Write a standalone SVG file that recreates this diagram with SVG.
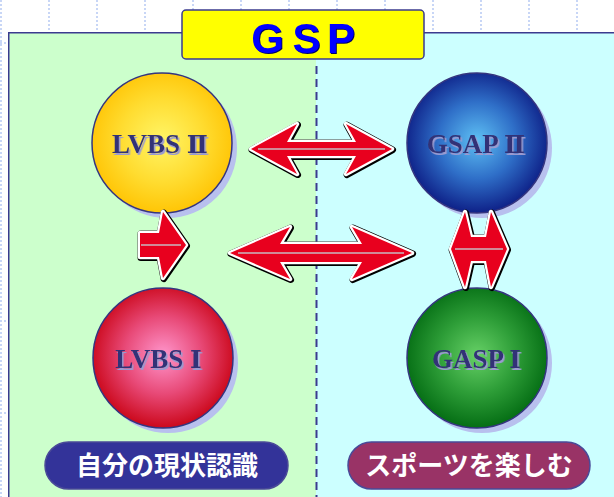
<svg xmlns="http://www.w3.org/2000/svg" xmlns:xlink="http://www.w3.org/1999/xlink" width="614" height="497" viewBox="0 0 614 497">
<defs>
<style>
.grid{stroke:#c8d6f6;stroke-width:2;stroke-dasharray:2 2;fill:none}
.panel{stroke:#3b3b8f;stroke-width:1.5;fill:none}
.shadow{fill:#b8c0ee}
.ball{stroke:#35357f;stroke-width:1.5}
.ntxt{font-family:"Liberation Serif","DejaVu Serif",serif;font-weight:bold;font-size:27px;text-anchor:middle;fill:#333377;filter:url(#tsh)}
.num{font-family:"DejaVu Serif","Liberation Serif",serif;font-weight:bold;font-size:25px}
.a-out{fill:#000;stroke:#000;stroke-width:6.5;stroke-linejoin:round}
.a-white{fill:#fff;stroke:#fff;stroke-width:4.5;stroke-linejoin:round}
.a-red{fill:#e8001e}
.a-hl{stroke:#c9b9c0;stroke-width:1.5}
.pill{stroke:#4a4a98;stroke-width:1.5}
.ptxt{font-family:"Noto Sans CJK JP",sans-serif;font-weight:bold;font-size:26px;fill:#fff;text-anchor:middle}
</style>
<filter id="tsh" x="-10%" y="-20%" width="130%" height="150%">
<feDropShadow dx="1.5" dy="2" stdDeviation="0.4" flood-color="#9a9ad0" flood-opacity="1"/>
</filter>
<filter id="gsh" x="-10%" y="-10%" width="130%" height="130%">
<feDropShadow dx="1" dy="1" stdDeviation="0.3" flood-color="#000060" flood-opacity="1"/>
</filter>
<radialGradient id="gY" cx="50%" cy="48%" r="55%"><stop offset="0" stop-color="#fff566"/><stop offset="0.55" stop-color="#ffdc30"/><stop offset="1" stop-color="#ffc200"/></radialGradient>
<radialGradient id="gB" cx="50%" cy="48%" r="55%"><stop offset="0" stop-color="#5ec0f4"/><stop offset="0.5" stop-color="#2f6fc8"/><stop offset="1" stop-color="#0a1780"/></radialGradient>
<radialGradient id="gR" cx="50%" cy="48%" r="55%"><stop offset="0" stop-color="#ff96cc"/><stop offset="0.5" stop-color="#e84a78"/><stop offset="1" stop-color="#c80010"/></radialGradient>
<radialGradient id="gG" cx="50%" cy="48%" r="55%"><stop offset="0" stop-color="#66d066"/><stop offset="0.5" stop-color="#2e9e38"/><stop offset="1" stop-color="#006810"/></radialGradient>
<path id="p1" d="M251,149 L297,124 L287,142 L356,142 L346,124 L392,149 L346,174 L356,156 L287,156 L297,174 Z"/>
<path id="p2" d="M230,253 L290,227 L280,244 L362,244 L352,227 L412,253 L352,279 L362,262 L280,262 L290,279 Z"/>
<path id="p3" d="M451,249 L465,212 L471,237 L486,237 L491,212 L507,249 L491,287 L486,261 L471,261 L465,287 Z"/>
<path id="p4" d="M140,233 L159,233 L163,212 L186,245 L163,278 L159,257 L140,257 Z"/>
</defs>

<rect x="0" y="0" width="614" height="497" fill="#ffffff"/>
<g id="grid">
<line class="grid" x1="1" y1="0" x2="1" y2="497"/>
<line class="grid" x1="49" y1="0" x2="49" y2="32"/>
<line class="grid" x1="97" y1="0" x2="97" y2="32"/>
<line class="grid" x1="145" y1="0" x2="145" y2="32"/>
<line class="grid" x1="193" y1="0" x2="193" y2="32"/>
<line class="grid" x1="241" y1="0" x2="241" y2="32"/>
<line class="grid" x1="289" y1="0" x2="289" y2="32"/>
<line class="grid" x1="337" y1="0" x2="337" y2="32"/>
<line class="grid" x1="385" y1="0" x2="385" y2="32"/>
<line class="grid" x1="433" y1="0" x2="433" y2="32"/>
<line class="grid" x1="481" y1="0" x2="481" y2="32"/>
<line class="grid" x1="529" y1="0" x2="529" y2="32"/>
<line class="grid" x1="577" y1="0" x2="577" y2="32"/>
<line class="grid" x1="0" y1="43" x2="8" y2="43"/>
<line class="grid" x1="0" y1="321" x2="8" y2="321"/>
<line class="grid" x1="0" y1="413" x2="8" y2="413"/>
</g>

<g id="panel">
<rect x="8" y="32" width="308" height="465" fill="#ccffcc"/>
<rect x="316" y="32" width="298" height="465" fill="#ccffff"/>
<path class="panel" d="M8.75,497 V32.75 H614"/>
<line x1="316.5" y1="66" x2="316.5" y2="497" stroke="#3b3b8f" stroke-width="2" stroke-dasharray="8 5"/>
</g>

<g id="title">
<rect x="182" y="10" width="242" height="49" rx="4" fill="#ffff00" stroke="#3b3b8f" stroke-width="1.5"/>
<text x="267.5 306.5 341" y="53" font-family="Liberation Sans, Arial, sans-serif" font-weight="bold" font-size="42" fill="#0000ff" text-anchor="middle" filter="url(#gsh)">GSP</text>
</g>

<g id="node-lvbs2">
<circle class="shadow" cx="167" cy="148" r="70"/>
<circle class="ball" cx="162" cy="143" r="70" fill="url(#gY)"/>
<text class="ntxt" x="160" y="153">LVBS <tspan class="num">Ⅱ</tspan></text>
</g>

<g id="node-gsap2">
<circle class="shadow" cx="482" cy="148" r="70"/>
<circle class="ball" cx="477" cy="143" r="70" fill="url(#gB)"/>
<text class="ntxt" x="476" y="153">GSAP <tspan class="num">Ⅱ</tspan></text>
</g>

<g id="node-lvbs1">
<circle class="shadow" cx="168" cy="363" r="70"/>
<circle class="ball" cx="163" cy="358" r="70" fill="url(#gR)"/>
<text class="ntxt" x="158.5" y="368">LVBS <tspan class="num">Ⅰ</tspan></text>
</g>

<g id="node-gasp1">
<circle class="shadow" cx="482" cy="363" r="70"/>
<circle class="ball" cx="477" cy="358" r="70" fill="url(#gG)"/>
<text class="ntxt" x="476.5" y="368">GASP <tspan class="num">Ⅰ</tspan></text>
</g>

<g id="connectors">
<g id="arrow-top">
<use xlink:href="#p1" class="a-out" transform="translate(0.8,0.8)"/>
<use xlink:href="#p1" class="a-white"/>
<use xlink:href="#p1" class="a-red"/>
<line class="a-hl" x1="258" y1="149" x2="385" y2="149"/>
</g>
<g id="arrow-mid">
<use xlink:href="#p2" class="a-out" transform="translate(0.8,0.8)"/>
<use xlink:href="#p2" class="a-white"/>
<use xlink:href="#p2" class="a-red"/>
<line class="a-hl" x1="238" y1="253" x2="404" y2="253"/>
</g>
<g id="arrow-right">
<use xlink:href="#p3" class="a-out" transform="translate(0.8,0.8)"/>
<use xlink:href="#p3" class="a-white"/>
<use xlink:href="#p3" class="a-red"/>
<line class="a-hl" x1="455" y1="249" x2="503" y2="249"/>
</g>
<g id="arrow-left">
<use xlink:href="#p4" class="a-out" transform="translate(0.8,0.8)"/>
<use xlink:href="#p4" class="a-white"/>
<use xlink:href="#p4" class="a-red"/>
<line class="a-hl" x1="141" y1="245" x2="181" y2="245"/>
</g>
</g>

<g id="label-left">
<rect class="pill" x="45" y="442" width="243" height="47" rx="23.5" fill="#333399"/>
<text class="ptxt" x="167" y="475">自分の現状認識</text>
</g>

<g id="label-right">
<rect class="pill" x="348" y="442" width="242" height="47" rx="23.5" fill="#993366"/>
<text class="ptxt" x="469" y="475">スポーツを楽しむ</text>
</g>
</svg>
